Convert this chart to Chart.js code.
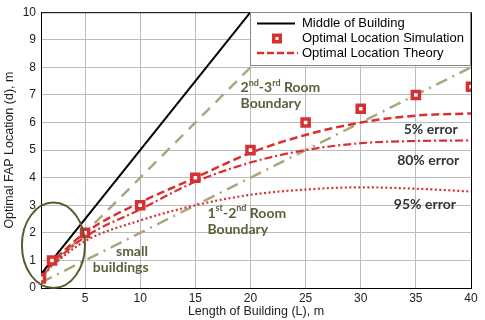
<!DOCTYPE html>
<html><head><meta charset="utf-8">
<script src="https://cdn.jsdelivr.net/npm/chart.js@4"></script>
<style>html,body{margin:0;padding:0;background:#fff}canvas{display:block}</style>
</head><body>
<canvas id="c" width="485" height="320"></canvas>
<script>
// ---- data ----
const midL = [1, 20];
const midD = [0.5, 10];
const simL = [1, 2, 5, 10, 15, 20, 25, 30, 35, 40];
const simD = [0.35, 1.0, 2.0, 3.0, 4.0, 5.0, 6.0, 6.5, 7.0, 7.3];
const theoL = [1, 2, 5, 10, 15, 20, 25, 30, 35, 40];
const theo5 = [0.4, 0.9, 2.0, 3.1, 4.0, 4.9, 5.55, 6.0, 6.25, 6.33];
const err80 = [0.4, 0.85, 1.85, 2.85, 3.85, 4.55, 5.0, 5.25, 5.33, 5.35];
const err95 = [0.4, 0.8, 1.7, 2.45, 3.0, 3.38, 3.57, 3.65, 3.6, 3.5];
const b23L = [1, 25];
const b23D = [0.4, 10];
const b12L = [1, 40];
const b12D = [0.2, 8];
const xTicks = [5, 10, 15, 20, 25, 30, 35, 40];
const yTicks = [0, 1, 2, 3, 4, 5, 6, 7, 8, 9, 10];
const legendLabels = ['Middle of Building', 'Optimal Location Simulation', 'Optimal Location Theory'];

const RED = '#d83030';
const KHAKI = '#aaa77c';
const OLIVE = '#5e5e3a';
const pts = (xs, ys) => xs.map((x, i) => ({x, y: ys[i]}));

const annotations = [
  {L: 19.1, d: 7.26, parts: [['2',0],['nd',1],['-3',0],['rd',1],[' Room',0]], color: OLIVE},
  {L: 19.1, d: 6.68, parts: [['Boundary',0]], color: OLIVE},
  {L: 16.1, d: 2.71, parts: [['1',0],['st',1],['-2',0],['nd',1],[' Room',0]], color: OLIVE},
  {L: 16.1, d: 2.13, parts: [['Boundary',0]], color: OLIVE},
  {L: 7.8, d: 1.34, parts: [['small',0]], color: OLIVE},
  {L: 5.7, d: 0.76, parts: [['buildings',0]], color: OLIVE},
  {L: 33.9, d: 5.74, parts: [['5% error',0]], color: '#333'},
  {L: 33.3, d: 4.62, parts: [['80% error',0]], color: '#333'},
  {L: 33.0, d: 3.03, parts: [['95% error',0]], color: '#333'}
];

const extras = {
  id: 'extras',
  afterDraw(chart) {
    const {ctx, chartArea: a, scales: {x, y}} = chart;
    ctx.save();
    const cx = x.getPixelForValue(2.13), cy = y.getPixelForValue(1.55);
    const rx = x.getPixelForValue(2.13 + 2.86) - cx;
    const ry = cy - y.getPixelForValue(1.55 + 1.55);
    ctx.strokeStyle = '#5a5c30';
    ctx.lineWidth = 2;
    ctx.beginPath();
    ctx.ellipse(cx, cy, rx, ry, 0, 0, Math.PI * 2);
    ctx.stroke();
    ctx.textBaseline = 'middle';
    ctx.textAlign = 'left';
    for (const an of annotations) {
      let px = x.getPixelForValue(an.L);
      const py = y.getPixelForValue(an.d);
      ctx.fillStyle = an.color;
      for (const [t, sup] of an.parts) {
        ctx.font = sup ? 'bold 9px Lato' : 'bold 14px Lato';
        ctx.fillText(t, px, sup ? py - 5 : py);
        px += ctx.measureText(t).width;
      }
    }
    ctx.strokeStyle = '#000';
    ctx.lineWidth = 1;
    ctx.beginPath();
    ctx.moveTo(a.left, a.top + 0.5);
    ctx.lineTo(a.right + 0.5, a.top + 0.5);
    ctx.lineTo(a.right + 0.5, a.bottom);
    ctx.stroke();
    const bx = 250, by = 12, bw = 220, bh = 53;
    ctx.fillStyle = '#fff';
    ctx.fillRect(bx, by, bw, bh);
    ctx.strokeStyle = '#888';
    ctx.strokeRect(bx + 0.5, by + 0.5, bw, bh);
    const rows = [23.5, 38.5, 53];
    ctx.strokeStyle = '#000'; ctx.lineWidth = 2;
    ctx.beginPath(); ctx.moveTo(257, rows[0]); ctx.lineTo(295, rows[0]); ctx.stroke();
    ctx.fillStyle = RED;
    ctx.fillRect(272, rows[1] - 5, 10, 10);
    ctx.fillStyle = '#fff';
    ctx.fillRect(275.5, rows[1] - 1.5, 3, 3);
    ctx.strokeStyle = RED; ctx.lineWidth = 2.5; ctx.setLineDash([7, 3]);
    ctx.beginPath(); ctx.moveTo(257, rows[2]); ctx.lineTo(298, rows[2]); ctx.stroke();
    ctx.setLineDash([]);
    ctx.fillStyle = '#000';
    ctx.font = '13px "Liberation Sans"';
    legendLabels.forEach((t, i) => ctx.fillText(t, 302, rows[i]));
    ctx.restore();
  }
};

new Chart(document.getElementById('c'), {
  type: 'line',
  data: {
    datasets: [
      {label: 'sim', data: pts(simL, simD), showLine: false, pointStyle: 'rect', pointRadius: 5,
       pointBorderWidth: 3.5, pointBorderColor: RED, pointBackgroundColor: '#fff', order: 0},
      {label: 'mid', data: pts(midL, midD), borderColor: '#000', borderWidth: 2, pointRadius: 0, order: 1},
      {label: '5%', data: pts(theoL, theo5), borderColor: RED, borderWidth: 2.5, borderDash: [8, 4],
       pointRadius: 0, cubicInterpolationMode: 'monotone', order: 2},
      {label: '80%', data: pts(theoL, err80), borderColor: RED, borderWidth: 2.2, borderDash: [8, 3, 2, 3],
       pointRadius: 0, cubicInterpolationMode: 'monotone', order: 3},
      {label: '95%', data: pts(theoL, err95), borderColor: RED, borderWidth: 2.2, borderDash: [2, 2.5],
       pointRadius: 0, cubicInterpolationMode: 'monotone', order: 4},
      {label: 'b23', data: pts(b23L, b23D), borderColor: KHAKI, borderWidth: 2.5, borderDash: [11, 8],
       pointRadius: 0, order: 5},
      {label: 'b12', data: pts(b12L, b12D), borderColor: KHAKI, borderWidth: 2.5, borderDash: [12, 6, 2, 6],
       pointRadius: 0, order: 6}
    ]
  },
  options: {
    responsive: false,
    animation: false,
    events: [],
    layout: {padding: {top: 11, right: 14, left: 0, bottom: 0}},
    plugins: {legend: {display: false}, tooltip: {enabled: false}},
    scales: {
      x: {
        type: 'linear', min: 1, max: 40,
        afterBuildTicks: s => { s.ticks = xTicks.map(v => ({value: v})); },
        afterFit: s => { s.height = 32; },
        grid: {display: true, color: '#bdbdbd', lineWidth: 1, drawTicks: false},
        border: {display: true, color: '#000'},
        ticks: {padding: 3, color: '#222', font: {family: 'Liberation Sans', size: 12}, maxRotation: 0},
        title: {display: true, text: 'Length of Building (L), m', color: '#222',
                font: {family: 'Liberation Sans', size: 12.5}, padding: {top: 0, bottom: 1}}
      },
      y: {
        type: 'linear', min: 0, max: 10,
        afterBuildTicks: s => { s.ticks = yTicks.map(v => ({value: v})); },
        afterFit: s => { s.width = 41; },
        grid: {display: true, color: '#bdbdbd', lineWidth: 1, drawTicks: false},
        border: {display: true, color: '#000'},
        ticks: {padding: 5, color: '#222', font: {family: 'Liberation Sans', size: 12}},
        title: {display: true, text: 'Optimal FAP Location (d), m', color: '#222',
                font: {family: 'Liberation Sans', size: 12.5}, padding: {top: 2, bottom: 0}}
      }
    }
  },
  plugins: [extras]
});
</script>
</body></html>
